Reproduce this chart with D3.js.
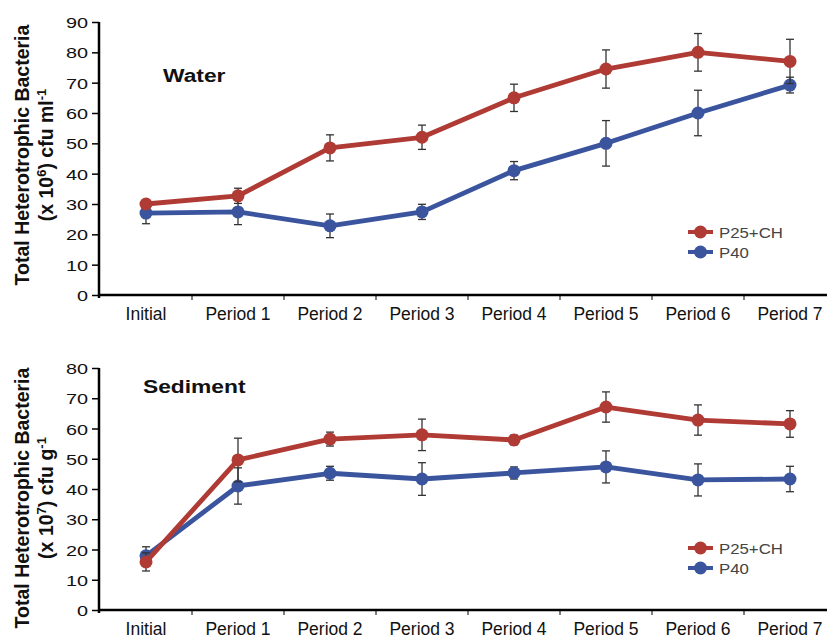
<!DOCTYPE html>
<html>
<head>
<meta charset="utf-8">
<script src="https://cdn.jsdelivr.net/npm/d3@7"></script>
<style>
  body { margin: 0; background: #fff; }
  svg { display: block; font-family: "Liberation Sans", Arial, sans-serif; }
</style>
</head>
<body>
<svg id="chart" width="827" height="638"></svg>
<script>
const categories = ['Initial', 'Period 1', 'Period 2', 'Period 3', 'Period 4', 'Period 5', 'Period 6', 'Period 7'];
const seriesNames = ['P25+CH', 'P40'];

// water, x 10^6 cfu/ml
const waterRed = [30, 32.7, 48.5, 52, 65, 74.5, 80, 77];
const waterRedErr = [1, 2.5, 4.3, 4, 4.5, 6.3, 6.2, 7.3];
const waterBlue = [27, 27.4, 22.8, 27.4, 41, 50, 60, 69.2];
const waterBlueErr = [3.5, 4.2, 3.9, 2.5, 3, 7.5, 7.5, 2.6];

// sediment, x 10^7 cfu/g
const sedRed = [15.9, 49.6, 56.5, 57.9, 56.2, 67.1, 62.8, 61.5];
const sedRedErr = [3, 7.2, 2.3, 5.2, 1.6, 5, 5, 4.4];
const sedBlue = [17.9, 41, 45.2, 43.3, 45.3, 47.3, 43, 43.3];
const sedBlueErr = [3, 6, 2.3, 5.4, 2, 5.3, 5.3, 4.2];

const colors = ['#b03a34', '#3a549e'];

const svg = d3.select('#chart');

const x = d3.scaleBand().domain(categories).range([100, 836]);

const panels = [
  { title: 'Water', yMax: 90, yTop: 22, yBottom: 295, exp: '6', unit: 'ml', titleX: 163, titleY: 82,
    series: [[waterRed, waterRedErr], [waterBlue, waterBlueErr]], legendY: 232, labelMid: 155 },
  { title: 'Sediment', yMax: 80, yTop: 368, yBottom: 610, exp: '7', unit: 'g', titleX: 143, titleY: 393,
    series: [[sedRed, sedRedErr], [sedBlue, sedBlueErr]], legendY: 548, labelMid: 498 }
];

// the source image is a bit wider than tall, so some text gets stretched horizontally
function stretched(sel, px, py, sx) {
  return sel.attr('transform', `translate(${px},${py}) scale(${sx},1)`);
}

panels.forEach(p => {
  const y = d3.scaleLinear().domain([0, p.yMax]).range([p.yBottom, p.yTop]);
  const g = svg.append('g');

  // y axis
  const yAxis = g.append('g')
    .attr('transform', 'translate(99,0)')
    .call(d3.axisLeft(y).ticks(p.yMax / 10).tickSize(7).tickSizeOuter(0));
  yAxis.select('.domain').attr('stroke', '#000').attr('stroke-width', 2.5)
    .attr('d', `M0,${p.yTop}V${p.yBottom + 3}`);
  yAxis.selectAll('.tick line').attr('stroke', '#000').attr('stroke-width', 1.5);
  yAxis.selectAll('.tick text')
    .attr('x', 0).attr('dy', null).attr('y', 5.5)
    .attr('font-size', 15.5).attr('fill', '#111')
    .attr('transform', 'translate(-11,0) scale(1.28,1)');

  // x axis
  g.append('line')
    .attr('x1', 99).attr('x2', 836)
    .attr('y1', p.yBottom).attr('y2', p.yBottom)
    .attr('stroke', '#000').attr('stroke-width', 2.5);
  g.selectAll('.xtick')
    .data(categories.slice(1))
    .join('line')
    .attr('x1', d => x(d)).attr('x2', d => x(d))
    .attr('y1', p.yBottom).attr('y2', p.yBottom + 5)
    .attr('stroke', '#000').attr('stroke-width', 1);
  g.selectAll('.xlabel')
    .data(categories)
    .join('text')
    .attr('x', d => x(d) + x.bandwidth() / 2)
    .attr('y', p.yBottom + 25)
    .attr('text-anchor', 'middle')
    .attr('font-size', 17.5)
    .attr('fill', '#111')
    .text(d => d);

  // y axis label
  g.append('text')
    .attr('transform', `translate(29,${p.labelMid}) rotate(-90)`)
    .attr('text-anchor', 'middle')
    .attr('font-size', 19.5)
    .attr('font-weight', 'bold')
    .attr('fill', '#111')
    .text('Total Heterotrophic Bacteria');
  const l2 = g.append('text')
    .attr('transform', `translate(53,${p.labelMid}) rotate(-90)`)
    .attr('text-anchor', 'middle')
    .attr('font-size', 19.5)
    .attr('font-weight', 'bold')
    .attr('fill', '#111');
  l2.append('tspan').text('(x 10');
  l2.append('tspan').attr('font-size', 13).attr('dy', -7).text(p.exp);
  l2.append('tspan').attr('dy', 7).text(`) cfu ${p.unit}`);
  l2.append('tspan').attr('font-size', 13).attr('dy', -7).text('-1');

  // panel title
  stretched(g.append('text'), p.titleX, p.titleY, 1.2)
    .attr('font-size', 19).attr('font-weight', 'bold').attr('fill', '#111')
    .text(p.title);

  const cx = d => x(d) + x.bandwidth() / 2;
  const line = d3.line().x(d => cx(d.cat)).y(d => y(d.v));

  // blue under red
  [1, 0].forEach(si => {
    const [vals, errs] = p.series[si];
    const pts = categories.map((c, i) => ({ cat: c, v: vals[i], e: errs[i] }));
    g.append('path')
      .datum(pts)
      .attr('d', line)
      .attr('fill', 'none')
      .attr('stroke', colors[si])
      .attr('stroke-width', 4.8)
      .attr('stroke-linejoin', 'round');
    const eb = g.append('g').attr('stroke', '#333').attr('stroke-width', 1.3);
    pts.forEach(d => {
      const xc = cx(d.cat);
      eb.append('line').attr('x1', xc).attr('x2', xc).attr('y1', y(d.v + d.e)).attr('y2', y(d.v - d.e));
      eb.append('line').attr('x1', xc - 4).attr('x2', xc + 4).attr('y1', y(d.v + d.e)).attr('y2', y(d.v + d.e));
      eb.append('line').attr('x1', xc - 4).attr('x2', xc + 4).attr('y1', y(d.v - d.e)).attr('y2', y(d.v - d.e));
    });
    g.selectAll(null)
      .data(pts)
      .join('circle')
      .attr('cx', d => cx(d.cat))
      .attr('cy', d => y(d.v))
      .attr('r', 6.5)
      .attr('fill', colors[si]);
  });

  // legend
  const lg = g.append('g').attr('transform', `translate(688,${p.legendY})`);
  seriesNames.forEach((name, i) => {
    const row = lg.append('g').attr('transform', `translate(0,${i * 20})`);
    row.append('line').attr('x1', 0).attr('x2', 25).attr('y1', 0).attr('y2', 0)
      .attr('stroke', colors[i]).attr('stroke-width', 4);
    row.append('circle').attr('cx', 12.5).attr('cy', 0).attr('r', 6.5).attr('fill', colors[i]);
    stretched(row.append('text'), 31, 5.5, 1.12)
      .attr('font-size', 15).attr('fill', '#444').text(name);
  });
});
</script>
</body>
</html>
